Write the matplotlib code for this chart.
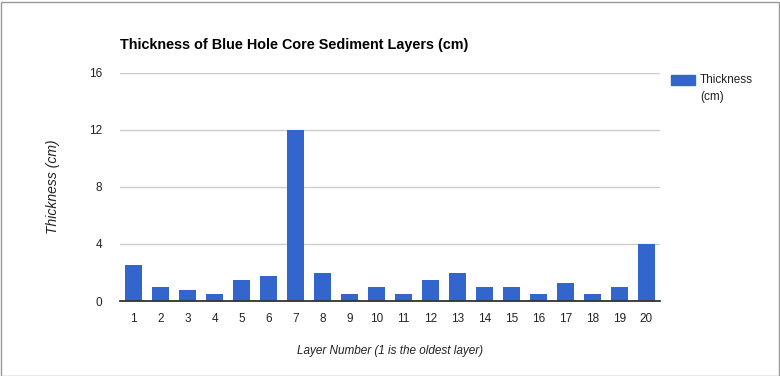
import numpy as np
import matplotlib.pyplot as plt
from matplotlib.patches import Rectangle

plt.rcParams['font.family'] = ['Liberation Sans', 'DejaVu Sans']

# layer number and thickness (cm)
layers = np.arange(1, 21)
thickness = [2.5, 1, 0.75, 0.5, 1.5, 1.75, 12, 2, 0.5, 1,
             0.5, 1.5, 2, 1, 1, 0.5, 1.25, 0.5, 1, 4]
yticks = [0, 4, 8, 12, 16]

fig = plt.figure(figsize=(7.8, 3.76), dpi=100)
ax = fig.add_axes([120/780, 1-301/376, 540/780, 228/376])

ax.bar(layers, thickness, width=0.63, color='#3366cc', zorder=3)
ax.set_xlim(0.5, 20.5)
ax.set_ylim(0, 16)
ax.set_yticks(yticks)
ax.set_xticks(layers)
ax.yaxis.grid(True, color='#cccccc', linewidth=1)
ax.set_axisbelow(True)
for s in ['top', 'right', 'left']:
    ax.spines[s].set_visible(False)
ax.spines['bottom'].set_color('#333333')
ax.spines['bottom'].set_linewidth(1.3)
ax.spines['bottom'].set_zorder(4)
ax.tick_params(length=0, labelsize=8.5, labelcolor='#222222')
ax.tick_params(axis='x', pad=9)
ax.tick_params(axis='y', pad=13)

ax.set_xlabel('Layer Number (1 is the oldest layer)', fontstyle='italic',
              fontsize=8.5, color='#222222', labelpad=14)
ax.set_ylabel('Thickness (cm)', fontstyle='italic', fontsize=10,
              color='#222222', labelpad=21)

fig.text(120/780, 1-45/376, 'Thickness of Blue Hole Core Sediment Layers (cm)',
         fontsize=10.4, fontweight='bold', va='center', ha='left', color='black')

# legend
fig.patches.append(Rectangle((671/780, 1-85/376), 24/780, 10/376,
                             transform=fig.transFigure, color='#3366cc'))
fig.text(700/780, 1-80/376, 'Thickness', fontsize=8.5, va='center', color='#222222')
fig.text(700/780, 1-97/376, '(cm)', fontsize=8.5, va='center', color='#222222')

# outer border
fig.patches.append(Rectangle((0.5/780, 0.5/376), 778/780, 374/376,
                             transform=fig.transFigure, fill=False,
                             edgecolor='#999999', linewidth=1))

fig.savefig('out.png', dpi=100)
